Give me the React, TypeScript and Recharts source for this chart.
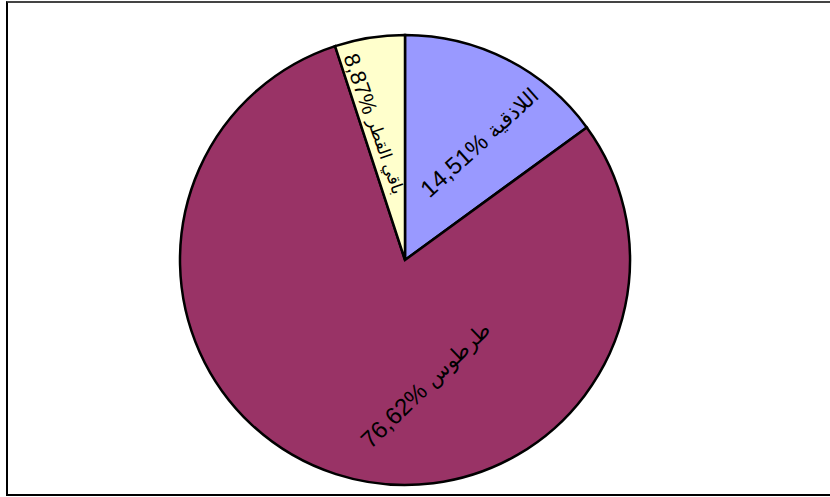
import React from "react";
import { PieChart, Pie, Cell } from "recharts";

const categories = ["اللاذقية", "طرطوس", "باقي القطر"];
const values = [14.97, 80.0, 5.03];
const percentLabels = ["14,51%", "76,62%", "8,87%"];

const colors = ["#9999FF", "#993366", "#FFFFCC"];
// label placement: polar angle (deg, ccw from east), radius fraction, rotation
const labelLayout = [
  { angle: 57.9, rFrac: 0.62, rotate: -42, numSize: 24, txtSize: 21 },
  { angle: -80.8, rFrac: 0.56, rotate: -44, numSize: 24, txtSize: 21 },
  { angle: 102.5, rFrac: 0.62, rotate: 71, numSize: 22, txtSize: 17 },
];

const data = categories.map((name, i) => ({
  name,
  value: values[i],
  label: percentLabels[i],
}));

const RAD = Math.PI / 180;

const renderLabel = (props: any) => {
  const { cx, cy, outerRadius, index } = props;
  const lay = labelLayout[index];
  const r = outerRadius * lay.rFrac;
  const x = cx + r * Math.cos(lay.angle * RAD);
  const y = cy - r * Math.sin(lay.angle * RAD);
  return (
    <text
      x={x}
      y={y}
      fill="#000"
      fontSize={lay.numSize}
      fontFamily="'Liberation Sans', Arial, 'DejaVu Sans', sans-serif"
      textAnchor="middle"
      dominantBaseline="central"
      transform={`rotate(${lay.rotate} ${x} ${y})`}
    >
      <tspan>{data[index].label + " "}</tspan>
      <tspan fontSize={lay.txtSize}>{data[index].name}</tspan>
    </text>
  );
};

export default function App() {
  return (
    <div style={{ position: "absolute", left: 0, top: 0, width: 830, height: 497, background: "#fff" }}>
      <div
        style={{
          position: "absolute",
          left: 6,
          top: 1,
          width: 840,
          height: 495,
          borderTop: "2px solid #444",
          borderLeft: "2px solid #000",
          borderBottom: "2px solid #000",
          boxSizing: "border-box",
        }}
      />
      <div style={{ position: "absolute", left: 0, top: 0 }}>
        <PieChart width={830} height={497} margin={{ top: 0, right: 0, bottom: 0, left: 0 }}>
          <Pie
            data={data}
            dataKey="value"
            nameKey="name"
            cx={405}
            cy={260}
            outerRadius={225}
            startAngle={90}
            endAngle={-270}
            stroke="#000"
            strokeWidth={2.5}
            label={renderLabel}
            labelLine={false}
            isAnimationActive={false}
          >
            {data.map((d, i) => (
              <Cell key={d.name} fill={colors[i]} />
            ))}
          </Pie>
        </PieChart>
      </div>
    </div>
  );
}
